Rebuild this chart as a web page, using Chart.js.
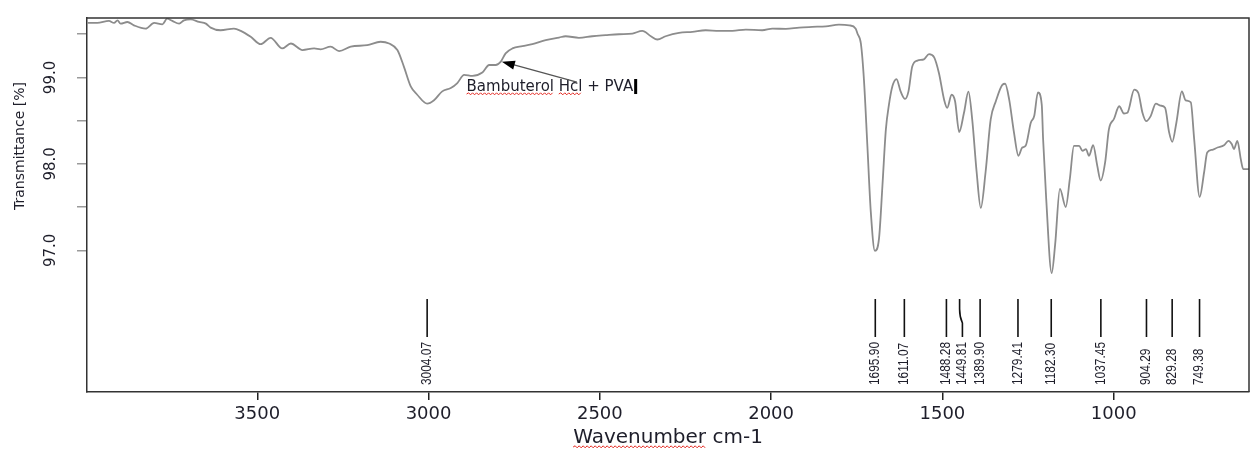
<!DOCTYPE html>
<html>
<head>
<meta charset="utf-8">
<script src="https://cdn.jsdelivr.net/npm/chart.js"></script>
<style>
  html, body { margin: 0; padding: 0; background: #fff; }
  #wrap { width: 1250px; height: 450px; }
</style>
</head>
<body>
<div id="wrap"><canvas id="irChart"></canvas></div>
<script>
// spectrum (wavenumber cm-1 / transmittance %)
const wavenumbers = [3996, 3967, 3933, 3918, 3908, 3899, 3879, 3860, 3826, 3801, 3777, 3763, 3748, 3728, 3714, 3694,
  3670, 3650, 3636, 3607, 3568, 3548, 3519, 3490, 3461, 3427, 3402, 3368, 3334, 3315, 3286, 3261, 3227, 3179, 3140,
  3115, 3091, 3072, 3052, 3033, 3004, 2984, 2960, 2935, 2916, 2896, 2872, 2843, 2823, 2804, 2789, 2775, 2755, 2726,
  2697, 2658, 2619, 2600, 2561, 2522, 2483, 2444, 2405, 2376, 2351, 2332, 2308, 2269, 2230, 2191, 2152, 2113, 2074,
  2026, 1996, 1957, 1918, 1880, 1840, 1802, 1772, 1753, 1748, 1738, 1729, 1719, 1709, 1697, 1685, 1675, 1665, 1656,
  1646, 1634, 1622, 1609, 1599, 1588, 1573, 1554, 1539, 1524, 1510, 1495, 1486, 1473, 1463, 1451, 1437, 1424, 1413,
  1400, 1388, 1374, 1359, 1344, 1325, 1317, 1305, 1291, 1278, 1267, 1257, 1242, 1232, 1221, 1210, 1206, 1197, 1181,
  1171, 1157, 1140, 1128, 1116, 1101, 1091, 1081, 1072, 1060, 1048, 1038, 1025, 1014, 999, 984, 970, 960, 940, 928,
  916, 905, 892, 877, 863, 850, 838, 829, 817, 801, 790, 775, 765, 749, 736, 727, 712, 697, 678, 665, 655, 649, 639,
  629, 622, 600];
const transmittance = [99.631, 99.631, 99.654, 99.631, 99.661, 99.623, 99.642, 99.603, 99.565, 99.631, 99.615, 99.680,
  99.654, 99.623, 99.661, 99.672, 99.642, 99.623, 99.577, 99.546, 99.565, 99.539, 99.470, 99.385, 99.459, 99.336,
  99.393, 99.317, 99.336, 99.325, 99.356, 99.305, 99.356, 99.374, 99.413, 99.393, 99.317, 99.126, 98.897, 98.800,
  98.697, 98.736, 98.839, 98.877, 98.935, 99.030, 99.018, 99.057, 99.144, 99.144, 99.183, 99.279, 99.336, 99.362,
  99.385, 99.431, 99.462, 99.477, 99.459, 99.477, 99.489, 99.500, 99.508, 99.539, 99.477, 99.439, 99.477, 99.516,
  99.528, 99.546, 99.539, 99.539, 99.554, 99.546, 99.565, 99.562, 99.577, 99.585, 99.592, 99.611, 99.603, 99.565,
  99.508, 99.393, 98.972, 98.209, 97.444, 96.993, 97.138, 97.750, 98.399, 98.686, 98.897, 98.981, 98.839, 98.751,
  98.839, 99.126, 99.195, 99.210, 99.271, 99.233, 99.049, 98.743, 98.648, 98.800, 98.725, 98.369, 98.591, 98.835,
  98.514, 97.903, 97.490, 97.903, 98.514, 98.725, 98.915, 98.927, 98.743, 98.361, 98.094, 98.189, 98.209, 98.476,
  98.553, 98.828, 98.686, 98.284, 97.596, 96.736, 97.062, 97.711, 97.501, 97.826, 98.209, 98.209, 98.151, 98.170,
  98.094, 98.216, 97.979, 97.807, 98.017, 98.399, 98.522, 98.667, 98.583, 98.591, 98.858, 98.820, 98.591, 98.495,
  98.553, 98.697, 98.674, 98.648, 98.361, 98.255, 98.476, 98.839, 98.736, 98.713, 98.284, 97.616, 97.903, 98.132,
  98.163, 98.189, 98.216, 98.266, 98.227, 98.170, 98.266, 98.055, 97.940, 97.940];

const xTickValues = [3500, 3000, 2500, 2000, 1500, 1000];
const yTickValues = [97.0, 97.5, 98.0, 98.5, 99.0, 99.5];
const peakPositions = [3004.07, 1695.90, 1611.07, 1488.28, 1449.81, 1389.90, 1279.41, 1182.30, 1037.45, 904.29, 829.28, 749.38];
const sampleLabel = 'Bambuterol Hcl + PVA';
const xTitle = 'Wavenumber cm-1';
const yTitle = 'Transmittance [%]';

const TEXT = '#1e1e2a';

Chart.defaults.font.family = "'DejaVu Sans', sans-serif";
Chart.defaults.color = TEXT;

// red spell-check wave under a word
function squiggle(ctx, x0, x1, y) {
  ctx.save();
  ctx.strokeStyle = '#e3261f';
  ctx.lineWidth = 1;
  ctx.beginPath();
  ctx.moveTo(x0, y);
  let up = true;
  for (let x = x0 + 2; x <= x1; x += 2) {
    ctx.lineTo(x, up ? y - 1.2 : y + 0.8);
    up = !up;
  }
  ctx.stroke();
  ctx.restore();
}

const extras = {
  id: 'extras',
  afterDraw(chart) {
    const { ctx, chartArea: area } = chart;
    const xs = chart.scales.x, ys = chart.scales.y;

    // box: top and right sides
    ctx.save();
    ctx.strokeStyle = '#333';
    ctx.lineWidth = 1.5;
    ctx.beginPath();
    ctx.moveTo(area.left, area.top);
    ctx.lineTo(area.right, area.top);
    ctx.lineTo(area.right, area.bottom);
    ctx.stroke();
    ctx.restore();

    // peak markers, narrow rotated labels
    const lineTop = area.bottom - 93, lineBottom = area.bottom - 55, textBase = area.bottom - 7;
    let prev = -Infinity;
    ctx.save();
    ctx.strokeStyle = '#111';
    ctx.fillStyle = TEXT;
    ctx.lineWidth = 1.6;
    ctx.font = "14px 'Liberation Sans', Arial, sans-serif";
    peakPositions.forEach(p => {
      const x = xs.getPixelForValue(p);
      const lx = Math.max(x, prev + 16);
      prev = lx;
      ctx.beginPath();
      ctx.moveTo(x, lineTop);
      if (lx - x > 0.5) {
        ctx.lineTo(x, lineTop + 10);
        ctx.quadraticCurveTo(x, lineTop + 18, lx, lineTop + 24);
      }
      ctx.lineTo(lx, lineBottom);
      ctx.stroke();
      ctx.save();
      ctx.translate(lx, textBase);
      ctx.rotate(-Math.PI / 2);
      ctx.scale(0.85, 1);
      ctx.textAlign = 'left';
      ctx.textBaseline = 'middle';
      ctx.fillText(p.toFixed(2), 0, 0);
      ctx.restore();
    });
    ctx.restore();

    // sample annotation with arrow
    ctx.save();
    const tx = xs.getPixelForValue(2889), ty = ys.getPixelForValue(98.843);
    ctx.font = '15px DejaVu Sans';
    ctx.fillStyle = TEXT;
    ctx.textAlign = 'left';
    ctx.textBaseline = 'alphabetic';
    ctx.fillText(sampleLabel, tx, ty);
    const words = sampleLabel.split(' ');
    const w1 = ctx.measureText(words[0]).width;
    const hStart = ctx.measureText(words[0] + ' ').width;
    const w2 = ctx.measureText(words[1]).width;
    squiggle(ctx, tx, tx + w1, ty + 3);
    squiggle(ctx, tx + hStart, tx + hStart + w2, ty + 3);
    const full = ctx.measureText(sampleLabel).width;
    ctx.fillStyle = '#000';
    ctx.fillRect(tx + full + 1, ty - 12, 3, 15);

    const ax0 = xs.getPixelForValue(2567), ay0 = ys.getPixelForValue(98.946);
    const ax1 = xs.getPixelForValue(2786), ay1 = ys.getPixelForValue(99.183);
    const ang = Math.atan2(ay1 - ay0, ax1 - ax0);
    ctx.strokeStyle = '#555';
    ctx.lineWidth = 1.3;
    ctx.beginPath();
    ctx.moveTo(ax0, ay0);
    ctx.lineTo(ax1 - 8 * Math.cos(ang), ay1 - 8 * Math.sin(ang));
    ctx.stroke();
    ctx.fillStyle = '#000';
    ctx.beginPath();
    ctx.moveTo(ax1, ay1);
    ctx.lineTo(ax1 - 13 * Math.cos(ang) + 4.5 * Math.sin(ang), ay1 - 13 * Math.sin(ang) - 4.5 * Math.cos(ang));
    ctx.lineTo(ax1 - 13 * Math.cos(ang) - 4.5 * Math.sin(ang), ay1 - 13 * Math.sin(ang) + 4.5 * Math.cos(ang));
    ctx.closePath();
    ctx.fill();
    ctx.restore();

    // y axis title
    ctx.save();
    ctx.translate(20, area.top + 128);
    ctx.rotate(-Math.PI / 2);
    ctx.font = '14px DejaVu Sans';
    ctx.fillStyle = TEXT;
    ctx.textAlign = 'center';
    ctx.textBaseline = 'middle';
    ctx.fillText(yTitle, 0, 0);
    ctx.restore();

    // wave under "Wavenumber" in the x title
    ctx.save();
    ctx.font = '20px DejaVu Sans';
    const cx = (area.left + area.right) / 2;
    const fullW = ctx.measureText(xTitle).width;
    const wordW = ctx.measureText(xTitle.split(' ')[0]).width;
    squiggle(ctx, cx - fullW / 2, cx - fullW / 2 + wordW, chart.height - 3);
    ctx.restore();
  }
};

new Chart(document.getElementById('irChart'), {
  type: 'line',
  data: {
    datasets: [{
      data: wavenumbers.map((w, i) => ({ x: w, y: transmittance[i] })),
      borderColor: '#8c8c8c',
      borderWidth: 1.8,
      pointRadius: 0,
      fill: false,
      cubicInterpolationMode: 'monotone'
    }]
  },
  options: {
    responsive: true,
    maintainAspectRatio: false,
    animation: false,
    layout: { padding: { top: 14, right: 1, left: 0, bottom: 0 } },
    plugins: { legend: { display: false }, tooltip: { enabled: false } },
    scales: {
      x: {
        type: 'linear',
        reverse: true,
        min: 605,
        max: 3997,
        afterBuildTicks: s => { s.ticks = xTickValues.map(v => ({ value: v })); },
        afterFit: s => { s.height = 58; },
        grid: { drawOnChartArea: false, drawTicks: true, tickLength: 8, color: '#222', lineWidth: 1.5 },
        border: { display: true, color: '#333', width: 1.5 },
        ticks: { color: TEXT, font: { size: 18 }, padding: 4, maxRotation: 0, autoSkip: false, callback: v => String(v) },
        title: { display: true, text: xTitle, color: TEXT, font: { size: 20 }, padding: { top: 0, bottom: 0 } }
      },
      y: {
        min: 95.36,
        max: 99.688,
        afterBuildTicks: s => { s.ticks = yTickValues.map(v => ({ value: v })); },
        afterFit: s => { s.width = 87; },
        grid: { drawOnChartArea: false, drawTicks: true, tickLength: 10, color: '#9a9a9a', lineWidth: 1.5 },
        border: { display: true, color: '#333', width: 1.5 },
        ticks: {
          color: TEXT, font: { size: 15 }, minRotation: 90, maxRotation: 90, crossAlign: 'center',
          padding: 9, autoSkip: false,
          callback: v => Number.isInteger(v) ? v.toFixed(1) : ''
        }
      }
    }
  },
  plugins: [extras]
});
</script>
</body>
</html>
